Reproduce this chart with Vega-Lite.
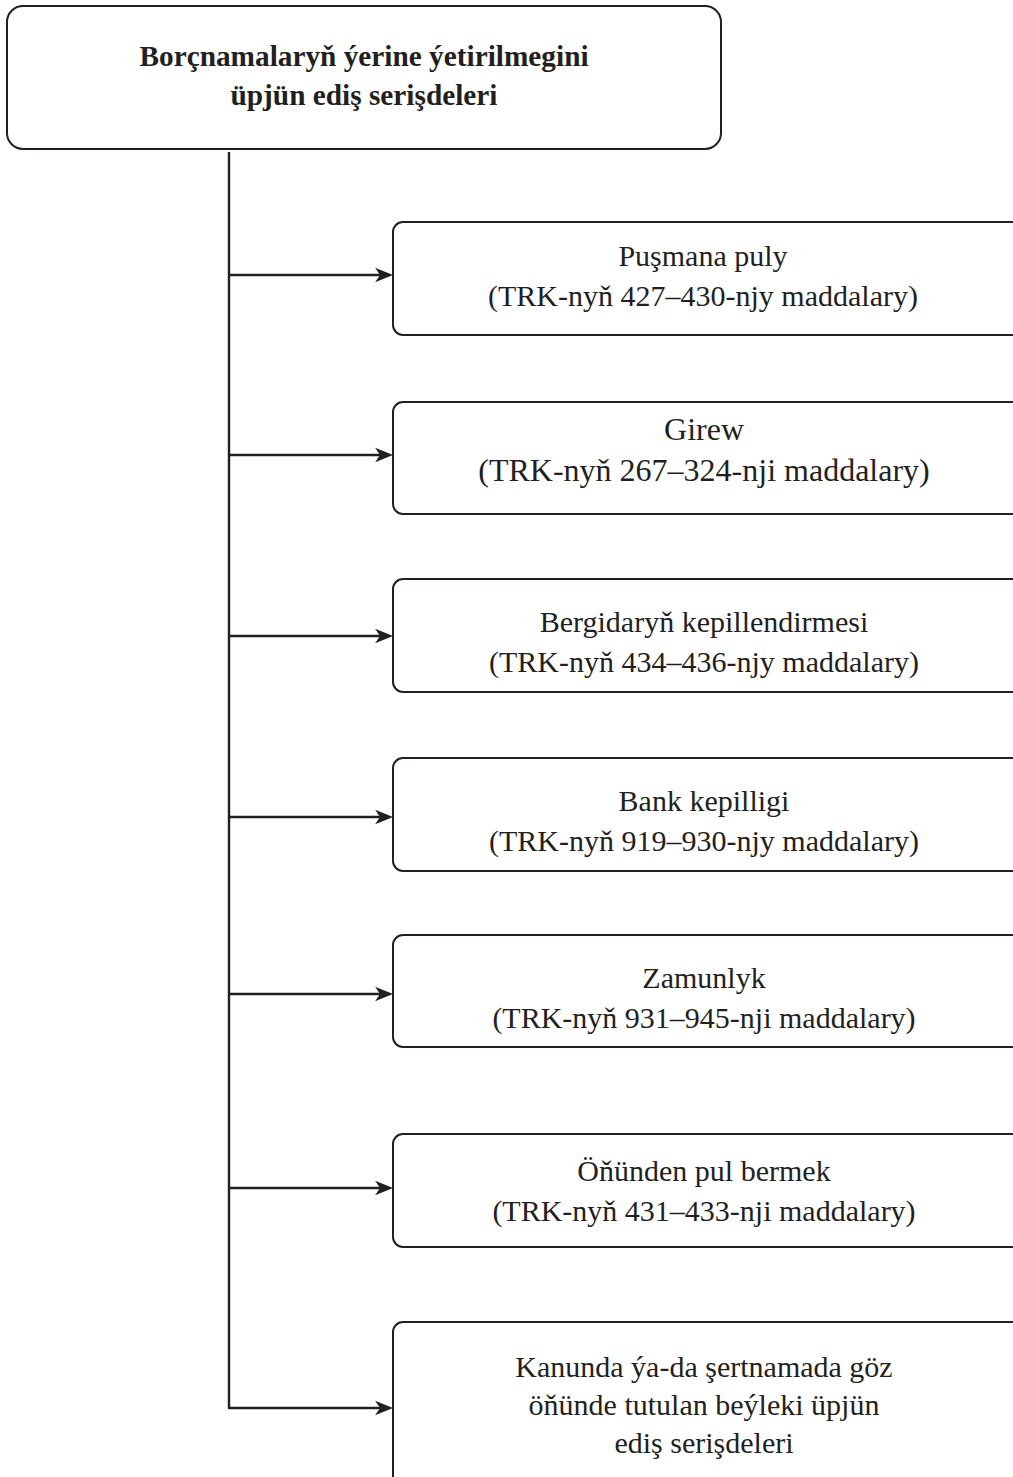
{
  "$schema": "https://vega.github.io/schema/vega-lite/v6.json",
  "width": 1013,
  "height": 1477,
  "padding": 0,
  "autosize": {"type": "fit", "contains": "padding"},
  "background": "white",
  "config": {"view": {"stroke": null}},
  "datasets": {
    "rootBox": [{"x1": 7, "x2": 721, "y1": 6, "y2": 149}],
    "childBoxes": [
      {"x1": 393, "x2": 1024, "y1": 222, "y2": 335},
      {"x1": 393, "x2": 1024, "y1": 402, "y2": 514},
      {"x1": 393, "x2": 1024, "y1": 579, "y2": 692},
      {"x1": 393, "x2": 1024, "y1": 758, "y2": 871},
      {"x1": 393, "x2": 1024, "y1": 935, "y2": 1047},
      {"x1": 393, "x2": 1024, "y1": 1134, "y2": 1247},
      {"x1": 393, "x2": 1024, "y1": 1322, "y2": 1490}
    ],
    "links": [
      {"x1": 229, "x2": 229, "y1": 152, "y2": 1409},
      {"x1": 229, "x2": 386, "y1": 275, "y2": 275},
      {"x1": 229, "x2": 386, "y1": 455, "y2": 455},
      {"x1": 229, "x2": 386, "y1": 636, "y2": 636},
      {"x1": 229, "x2": 386, "y1": 817, "y2": 817},
      {"x1": 229, "x2": 386, "y1": 994, "y2": 994},
      {"x1": 229, "x2": 386, "y1": 1188, "y2": 1188},
      {"x1": 229, "x2": 386, "y1": 1408, "y2": 1408}
    ],
    "arrows": [
      {"x": 393, "y": 275},
      {"x": 393, "y": 455},
      {"x": 393, "y": 636},
      {"x": 393, "y": 817},
      {"x": 393, "y": 994},
      {"x": 393, "y": 1188},
      {"x": 393, "y": 1408}
    ],
    "title": [
      {"x": 364, "y": 57, "label": ["Borçnamalaryň ýerine ýetirilmegini", "üpjün ediş serişdeleri"]}
    ],
    "labels": [
      {"x": 703, "y": 257, "group": "std", "label": ["Puşmana puly", "(TRK-nyň 427–430-njy maddalary)"]},
      {"x": 704, "y": 430, "group": "big", "label": ["Girew", "(TRK-nyň 267–324-nji maddalary)"]},
      {"x": 704, "y": 623, "group": "std", "label": ["Bergidaryň kepillendirmesi", "(TRK-nyň 434–436-njy maddalary)"]},
      {"x": 704, "y": 802, "group": "std", "label": ["Bank kepilligi", "(TRK-nyň 919–930-njy maddalary)"]},
      {"x": 704, "y": 979, "group": "std", "label": ["Zamunlyk", "(TRK-nyň 931–945-nji maddalary)"]},
      {"x": 704, "y": 1172, "group": "std", "label": ["Öňünden pul bermek", "(TRK-nyň 431–433-nji maddalary)"]},
      {"x": 704, "y": 1368, "group": "last", "label": ["Kanunda ýa-da şertnamada göz", "öňünde tutulan beýleki üpjün", "ediş serişdeleri"]}
    ]
  },
  "layer": [
    {
      "data": {"name": "rootBox"},
      "mark": {"type": "rect", "cornerRadius": 16, "fill": "white", "stroke": "#231f20", "strokeWidth": 2},
      "encoding": {
        "x": {"field": "x1", "type": "quantitative", "scale": {"domain": [0, 1013], "nice": false, "zero": false}, "axis": null},
        "x2": {"field": "x2"},
        "y": {"field": "y1", "type": "quantitative", "scale": {"domain": [0, 1477], "nice": false, "zero": false, "reverse": true}, "axis": null},
        "y2": {"field": "y2"}
      }
    },
    {
      "data": {"name": "childBoxes"},
      "mark": {"type": "rect", "cornerRadius": 10, "fill": "white", "stroke": "#231f20", "strokeWidth": 2, "clip": true},
      "encoding": {
        "x": {"field": "x1", "type": "quantitative", "axis": null},
        "x2": {"field": "x2"},
        "y": {"field": "y1", "type": "quantitative", "axis": null},
        "y2": {"field": "y2"}
      }
    },
    {
      "data": {"name": "links"},
      "mark": {"type": "rule", "stroke": "#231f20", "strokeWidth": 2.4},
      "encoding": {
        "x": {"field": "x1", "type": "quantitative", "axis": null},
        "x2": {"field": "x2"},
        "y": {"field": "y1", "type": "quantitative", "axis": null},
        "y2": {"field": "y2"}
      }
    },
    {
      "data": {"name": "arrows"},
      "mark": {"type": "point", "shape": "M0,0 L-2,-0.8 L-1.45,0 L-2,0.8 Z", "size": 320, "filled": true, "fill": "#231f20", "stroke": null, "opacity": 1},
      "encoding": {
        "x": {"field": "x", "type": "quantitative", "axis": null},
        "y": {"field": "y", "type": "quantitative", "axis": null}
      }
    },
    {
      "data": {"name": "title"},
      "mark": {"type": "text", "font": "Liberation Serif", "fontWeight": "bold", "fontSize": 29.3, "lineHeight": 39, "align": "center", "baseline": "middle", "color": "#231f20"},
      "encoding": {
        "x": {"field": "x", "type": "quantitative", "axis": null},
        "y": {"field": "y", "type": "quantitative", "axis": null},
        "text": {"field": "label", "type": "nominal"}
      }
    },
    {
      "data": {"name": "labels"},
      "transform": [{"filter": "datum.group === 'std'"}],
      "mark": {"type": "text", "font": "Liberation Serif", "fontSize": 30, "lineHeight": 40, "align": "center", "baseline": "middle", "color": "#231f20"},
      "encoding": {
        "x": {"field": "x", "type": "quantitative", "axis": null},
        "y": {"field": "y", "type": "quantitative", "axis": null},
        "text": {"field": "label", "type": "nominal"}
      }
    },
    {
      "data": {"name": "labels"},
      "transform": [{"filter": "datum.group === 'big'"}],
      "mark": {"type": "text", "font": "Liberation Serif", "fontSize": 32, "lineHeight": 41, "align": "center", "baseline": "middle", "color": "#231f20"},
      "encoding": {
        "x": {"field": "x", "type": "quantitative", "axis": null},
        "y": {"field": "y", "type": "quantitative", "axis": null},
        "text": {"field": "label", "type": "nominal"}
      }
    },
    {
      "data": {"name": "labels"},
      "transform": [{"filter": "datum.group === 'last'"}],
      "mark": {"type": "text", "font": "Liberation Serif", "fontSize": 30, "lineHeight": 38, "align": "center", "baseline": "middle", "color": "#231f20"},
      "encoding": {
        "x": {"field": "x", "type": "quantitative", "axis": null},
        "y": {"field": "y", "type": "quantitative", "axis": null},
        "text": {"field": "label", "type": "nominal"}
      }
    }
  ]
}
